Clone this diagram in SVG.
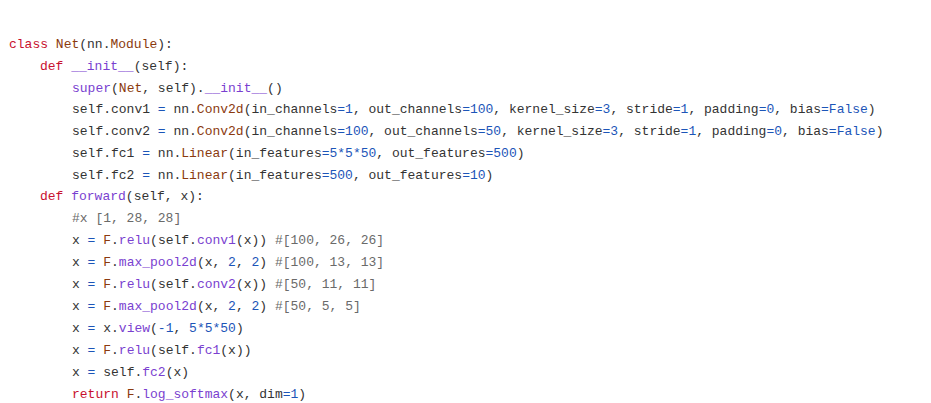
<svg xmlns="http://www.w3.org/2000/svg" width="931" height="403" viewBox="0 0 931 403">
<style>
text{font-family:"Liberation Mono","DejaVu Sans Mono",monospace;font-size:13px;fill:#333;white-space:pre}
.k{fill:#c8102e}.c{fill:#8b3a0e}.f{fill:#7a3fd0}.n{fill:#1c55b8}.m{fill:#6a6a6a}
</style>
<rect width="931" height="403" fill="#fff"/>
<g id="code" xml:space="preserve">
<text x="9" y="48"><tspan class="k">class</tspan> <tspan class="c">Net</tspan>(nn.<tspan class="c">Module</tspan>):</text>
<text x="40" y="70"><tspan class="k">def</tspan> <tspan class="f">__init__</tspan>(self):</text>
<text x="72" y="92"><tspan class="f">super</tspan>(<tspan class="c">Net</tspan>, self).<tspan class="f">__init__</tspan>()</text>
<text x="72" y="113"><tspan>self.conv1 </tspan><tspan class="n">=</tspan> nn.<tspan class="c">Conv2d</tspan>(in_channels<tspan class="n">=1</tspan>, out_channels<tspan class="n">=100</tspan>, kernel_size<tspan class="n">=3</tspan>, stride<tspan class="n">=1</tspan>, padding<tspan class="n">=0</tspan>, bias<tspan class="n">=False</tspan>)</text>
<text x="72" y="135"><tspan>self.conv2 </tspan><tspan class="n">=</tspan> nn.<tspan class="c">Conv2d</tspan>(in_channels<tspan class="n">=100</tspan>, out_channels<tspan class="n">=50</tspan>, kernel_size<tspan class="n">=3</tspan>, stride<tspan class="n">=1</tspan>, padding<tspan class="n">=0</tspan>, bias<tspan class="n">=False</tspan>)</text>
<text x="72" y="157"><tspan>self.fc1 </tspan><tspan class="n">=</tspan> nn.<tspan class="c">Linear</tspan>(in_features<tspan class="n">=5*5*50</tspan>, out_features<tspan class="n">=500</tspan>)</text>
<text x="72" y="179"><tspan>self.fc2 </tspan><tspan class="n">=</tspan> nn.<tspan class="c">Linear</tspan>(in_features<tspan class="n">=500</tspan>, out_features<tspan class="n">=10</tspan>)</text>
<text x="40" y="200"><tspan class="k">def</tspan> <tspan class="f">forward</tspan>(self, x):</text>
<text x="72" y="222" class="m">#x [1, 28, 28]</text>
<text x="72" y="244"><tspan>x </tspan><tspan class="n">=</tspan> <tspan class="c">F</tspan>.<tspan class="f">relu</tspan>(self.<tspan class="f">conv1</tspan>(x)) <tspan class="m">#[100, 26, 26]</tspan></text>
<text x="72" y="266"><tspan>x </tspan><tspan class="n">=</tspan> <tspan class="c">F</tspan>.<tspan class="f">max_pool2d</tspan>(x, <tspan class="n">2</tspan>, <tspan class="n">2</tspan>) <tspan class="m">#[100, 13, 13]</tspan></text>
<text x="72" y="288"><tspan>x </tspan><tspan class="n">=</tspan> <tspan class="c">F</tspan>.<tspan class="f">relu</tspan>(self.<tspan class="f">conv2</tspan>(x)) <tspan class="m">#[50, 11, 11]</tspan></text>
<text x="72" y="310"><tspan>x </tspan><tspan class="n">=</tspan> <tspan class="c">F</tspan>.<tspan class="f">max_pool2d</tspan>(x, <tspan class="n">2</tspan>, <tspan class="n">2</tspan>) <tspan class="m">#[50, 5, 5]</tspan></text>
<text x="72" y="332"><tspan>x </tspan><tspan class="n">=</tspan> x.<tspan class="f">view</tspan>(<tspan class="n">-1</tspan>, <tspan class="n">5*5*50</tspan>)</text>
<text x="72" y="354"><tspan>x </tspan><tspan class="n">=</tspan> <tspan class="c">F</tspan>.<tspan class="f">relu</tspan>(self.<tspan class="f">fc1</tspan>(x))</text>
<text x="72" y="376"><tspan>x </tspan><tspan class="n">=</tspan> self.<tspan class="f">fc2</tspan>(x)</text>
<text x="72" y="398"><tspan class="k">return</tspan> <tspan class="c">F</tspan>.<tspan class="f">log_softmax</tspan>(x, dim<tspan class="n">=1</tspan>)</text>
</g>
</svg>
